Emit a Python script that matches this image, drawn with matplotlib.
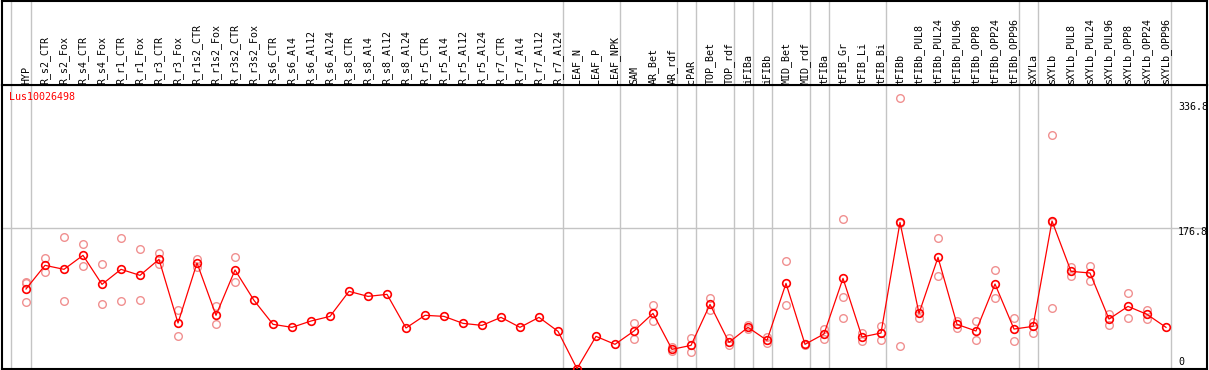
import matplotlib
matplotlib.use("Agg")
import matplotlib.pyplot as plt

categories = ["HYP", "R_s2_CTR", "R_s2_Fox", "R_s4_CTR", "R_s4_Fox", "R_r1_CTR", "R_r1_Fox",
              "R_r3_CTR", "R_r3_Fox", "R_r1s2_CTR", "R_r1s2_Fox", "R_r3s2_CTR", "R_r3s2_Fox",
              "R_s6_CTR", "R_s6_Al4", "R_s6_Al12", "R_s6_Al24", "R_s8_CTR", "R_s8_Al4",
              "R_s8_Al12", "R_s8_Al24", "R_r5_CTR", "R_r5_Al4", "R_r5_Al12", "R_r5_Al24",
              "R_r7_CTR", "R_r7_Al4", "R_r7_Al12", "R_r7_Al24", "LEAF_N", "LEAF_P", "LEAF_NPK",
              "SAM", "AR_Bet", "AR_rdf", "cPAR", "TOP_Bet", "TOP_rdf", "iFIBa", "iFIBb",
              "MID_Bet", "MID_rdf", "tFIBa", "tFIB_Gr", "tFIB_Li", "tFIB_Bi", "tFIBb",
              "tFIBb_PUL8", "tFIBb_PUL24", "tFIBb_PUL96", "tFIBb_OPP8", "tFIBb_OPP24",
              "tFIBb_OPP96", "sXYLa", "sXYLb", "sXYLb_PUL8", "sXYLb_PUL24", "sXYLb_PUL96",
              "sXYLb_OPP8", "sXYLb_OPP24", "sXYLb_OPP96"]

means = [102.1, 131.2, 126.3, 143.5, 107.8, 126.3, 118.9, 138.6, 60.2, 134.1, 69.7, 125.5, 88.1,
         58.6, 54.9, 62.7, 68.4, 99.2, 93.0, 95.5, 54.1, 69.7, 68.4, 59.8, 57.3, 67.2, 54.9, 67.2,
         50.0, 4.0, 43.8, 34.0, 50.4, 72.1, 27.8, 32.7, 83.2, 36.4, 54.9, 38.9, 109.0, 34.0, 46.7,
         115.2, 43.0, 47.9, 184.1, 72.1, 141.0, 58.6, 50.4, 108.2, 52.8, 56.1, 185.8, 123.8, 121.8,
         65.1, 80.7, 70.9, 54.9]

replicates = [
    [111.0, 109.1, 85.7], [139.8, 123.4], [165.7, 87.3], [157.0, 130.0], [132.4, 83.2],
    [164.4, 87.3], [150.9, 88.1], [146.4, 132.4], [76.2, 43.8], [138.6, 128.7], [80.7, 58.6],
    [141.0, 110.3], [], [], [], [], [], [], [], [], [], [], [], [], [], [], [], [], [], [], [], [],
    [60.2, 40.5], [82.0, 62.3], [30.3, 25.8], [41.3, 24.1], [90.6, 76.6], [41.3, 32.7],
    [57.3, 52.4], [42.6, 35.2], [136.1, 82.0], [35.0, 33.0], [53.2, 40.1],
    [187.8, 91.8, 66.0], [47.5, 38.5], [56.1, 38.9], [336.8, 183.7, 31.9], [77.0, 66.8],
    [164.4, 117.7], [63.1, 54.1], [62.7, 38.9], [125.0, 90.6], [66.4, 37.7], [61.0, 47.5],
    [291.2, 185.0, 78.3], [129.1, 117.7], [130.4, 111.5], [70.9, 58.2], [96.7, 66.4],
    [76.2, 65.5], [],
]

separators_before = [0, 1, 29, 32, 35, 36, 38, 39, 40, 42, 43, 46, 53, 54, 61]
grid_values = [176.8]
tick_labels = ["336.8", "176.8", "0"]
tick_label_pos = [326.5, 171.9, 12.4]
gene = "Lus10026498"

W, H = 1209, 370
fig = plt.figure(figsize=(W / 100, H / 100), dpi=100)

x0_px, x1_px = 1.5, 1207.0
top_px, bot_px = 85.3, 369.3
xlim = ((x0_px - 26) / 19.0, (x1_px - 26) / 19.0)

mono = "DejaVu Sans Mono"
fs = 7.2
red = "#ff0000"
light = "#f09090"
gray = "#c4c4c4"

ax = fig.add_axes([x0_px / W, (H - bot_px) / H, (x1_px - x0_px) / W, (bot_px - top_px) / H])
hx = fig.add_axes([x0_px / W, (H - top_px) / H, (x1_px - x0_px) / W, (top_px - 0.8) / H])

for a in (ax, hx):
    a.set_xlim(*xlim)
    a.set_xticks([])
    a.set_yticks([])
    for s in a.spines.values():
        s.set_linewidth(1.5)
        s.set_color("black")
    for sb in separators_before:
        pos = sb - 0.75 if sb > 0 else -0.8
        a.axvline(pos, color=gray, lw=1.0, zorder=0)

ax.set_ylim(3.26, 352.8)
hx.set_ylim(0, 1)

for g in grid_values:
    ax.axhline(g, color=gray, lw=1.0, zorder=0)

xs = list(range(len(categories)))
for i, reps in enumerate(replicates):
    if reps:
        ax.plot([i] * len(reps), reps, linestyle="none", marker="o", markersize=5.5,
                markerfacecolor="none", markeredgecolor=light, markeredgewidth=1.0, zorder=2)

ax.plot(xs, means, color=red, lw=0.9, marker="o", markersize=5.5, markerfacecolor="none",
        markeredgecolor=red, markeredgewidth=1.2, zorder=3)

for i, c in enumerate(categories):
    hx.text(i, 0.02, c, rotation=90, ha="center", va="bottom", fontsize=fs, family=mono,
            color="black")

for lbl, p in zip(tick_labels, tick_label_pos):
    ax.text((1178 - 26) / 19.0, p, lbl, ha="left", va="center", fontsize=fs, family=mono,
            color="black", clip_on=False)

ax.annotate(gene, xy=(0, 1), xycoords="axes fraction", xytext=(5.6, -8.2),
            textcoords="offset points", ha="left", va="center", fontsize=fs, family=mono,
            color=red)

fig.savefig("out.png", dpi=100)
